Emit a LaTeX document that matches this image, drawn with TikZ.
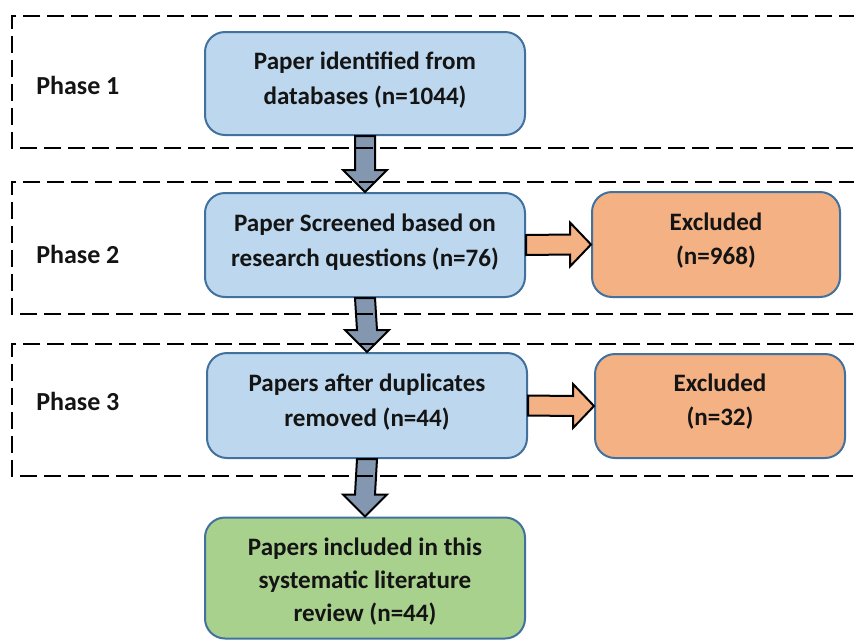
\documentclass[tikz,border=0pt]{standalone}
\usepackage{fontspec}
\setmainfont{Carlito}
\usetikzlibrary{calc}
\definecolor{boxblue}{HTML}{BDD7EE}
\definecolor{boxline}{HTML}{41719C}
\definecolor{boxorange}{HTML}{F4B183}
\definecolor{boxgreen}{HTML}{A9D18E}
\definecolor{arrowgray}{HTML}{8497B0}
\definecolor{txt}{HTML}{141414}
\newcommand{\boxtext}[2][0pt]{\raisebox{#1}[\height][\depth]{\begin{tabular}{@{}c@{}}#2\end{tabular}}}
\begin{document}
\begin{tikzpicture}[x=0.75pt,y=-0.75pt,
  stagebox/.style={draw=boxline,line width=1.5pt,rounded corners=15pt,
    inner sep=0pt,font=\fontsize{18.8pt}{26.25pt}\selectfont\bfseries,text=txt},
  bluebox/.style={stagebox,fill=boxblue},
  orangebox/.style={stagebox,fill=boxorange,font=\fontsize{18.8pt}{25.5pt}\selectfont\bfseries},
  greenbox/.style={stagebox,fill=boxgreen,font=\fontsize{18.8pt}{24.4pt}\selectfont\bfseries},
  phaselabel/.style={anchor=west,inner sep=0pt,font=\fontsize{19.5pt}{22pt}\selectfont\bfseries,text=txt},
  phaseframe/.style={dash pattern=on 13pt off 5pt,line width=1.5pt,black},
  downarrow/.style={draw=black,line width=1.5pt,fill=arrowgray,line join=miter},
  rightarrow/.style={draw=black,line width=1.5pt,fill=boxorange,line join=miter}]
\useasboundingbox (0,0) rectangle (854,640);

% boxes
\node[bluebox,minimum width=240pt,minimum height=77.25pt] (b1) at (365,83.5)
  {\boxtext[2.6pt]{Paper identified from\\databases (n=1044)}};
\node[bluebox,minimum width=240pt,minimum height=78pt] (b2) at (365,245)
  {\boxtext[2.6pt]{Paper Screened based on\\research questions (n=76)}};
\node[bluebox,minimum width=240pt,minimum height=78.75pt] (b3) at (367,405.5)
  {\boxtext[2.6pt]{Papers after duplicates\\removed (n=44)}};
\node[greenbox,minimum width=240pt,minimum height=90.75pt] (b4) at (365,578)
  {\boxtext[-3pt]{Papers included in this\\systematic literature\\review (n=44)}};
\node[orangebox,minimum width=186pt,minimum height=78.75pt] (e1) at (716,244.5)
  {\boxtext[3pt]{Excluded\\(n=968)}};
\node[orangebox,minimum width=187.5pt,minimum height=78pt] (e2) at (720,406)
  {\boxtext[3pt]{Excluded\\(n=32)}};

% down arrows
\foreach \a/\b in {b1/b2,b2/b3,b3/b4}{
  \draw[downarrow] ($(\a.south)+(-10,0)$) -- ($(\b.north)+(-10,-22)$) -- ($(\b.north)+(-22,-22)$)
    -- (\b.north) -- ($(\b.north)+(22,-22)$) -- ($(\b.north)+(10,-22)$) -- ($(\a.south)+(10,0)$) -- cycle;
}
% right arrows
\foreach \a/\b in {b2/e1,b3/e2}{
  \draw[rightarrow] ($(\a.east)+(0,-10)$) -- ($(\b.west)+(-21,-10)$) -- ($(\b.west)+(-21,-22)$)
    -- (\b.west) -- ($(\b.west)+(-21,22)$) -- ($(\b.west)+(-21,10)$) -- ($(\a.east)+(0,10)$) -- cycle;
}

% phase frames
\coordinate (p1tr) at (856,16);  \coordinate (p1tl) at (12,16);
\coordinate (p1bl) at (12,148);  \coordinate (p1br) at (856,148);
\coordinate (p2tr) at (856,182); \coordinate (p2tl) at (12,182);
\coordinate (p2bl) at (12,314);  \coordinate (p2br) at (856,314);
\coordinate (p3tr) at (856,344); \coordinate (p3tl) at (12,344);
\coordinate (p3bl) at (12,476);  \coordinate (p3br) at (856,476);
\draw[phaseframe] (p1tr) -- (p1tl) -- (p1bl) -- (p1br);
\draw[phaseframe] (p2tr) -- (p2tl) -- (p2bl) -- (p2br);
\draw[phaseframe] (p3tr) -- (p3tl) -- (p3bl) -- (p3br);

% phase labels
\node[phaselabel] (ph1) at (36,85) {Phase 1};
\node[phaselabel] (ph2) at (36,254) {Phase 2};
\node[phaselabel] (ph3) at (36,401) {Phase 3};
\end{tikzpicture}
\end{document}
